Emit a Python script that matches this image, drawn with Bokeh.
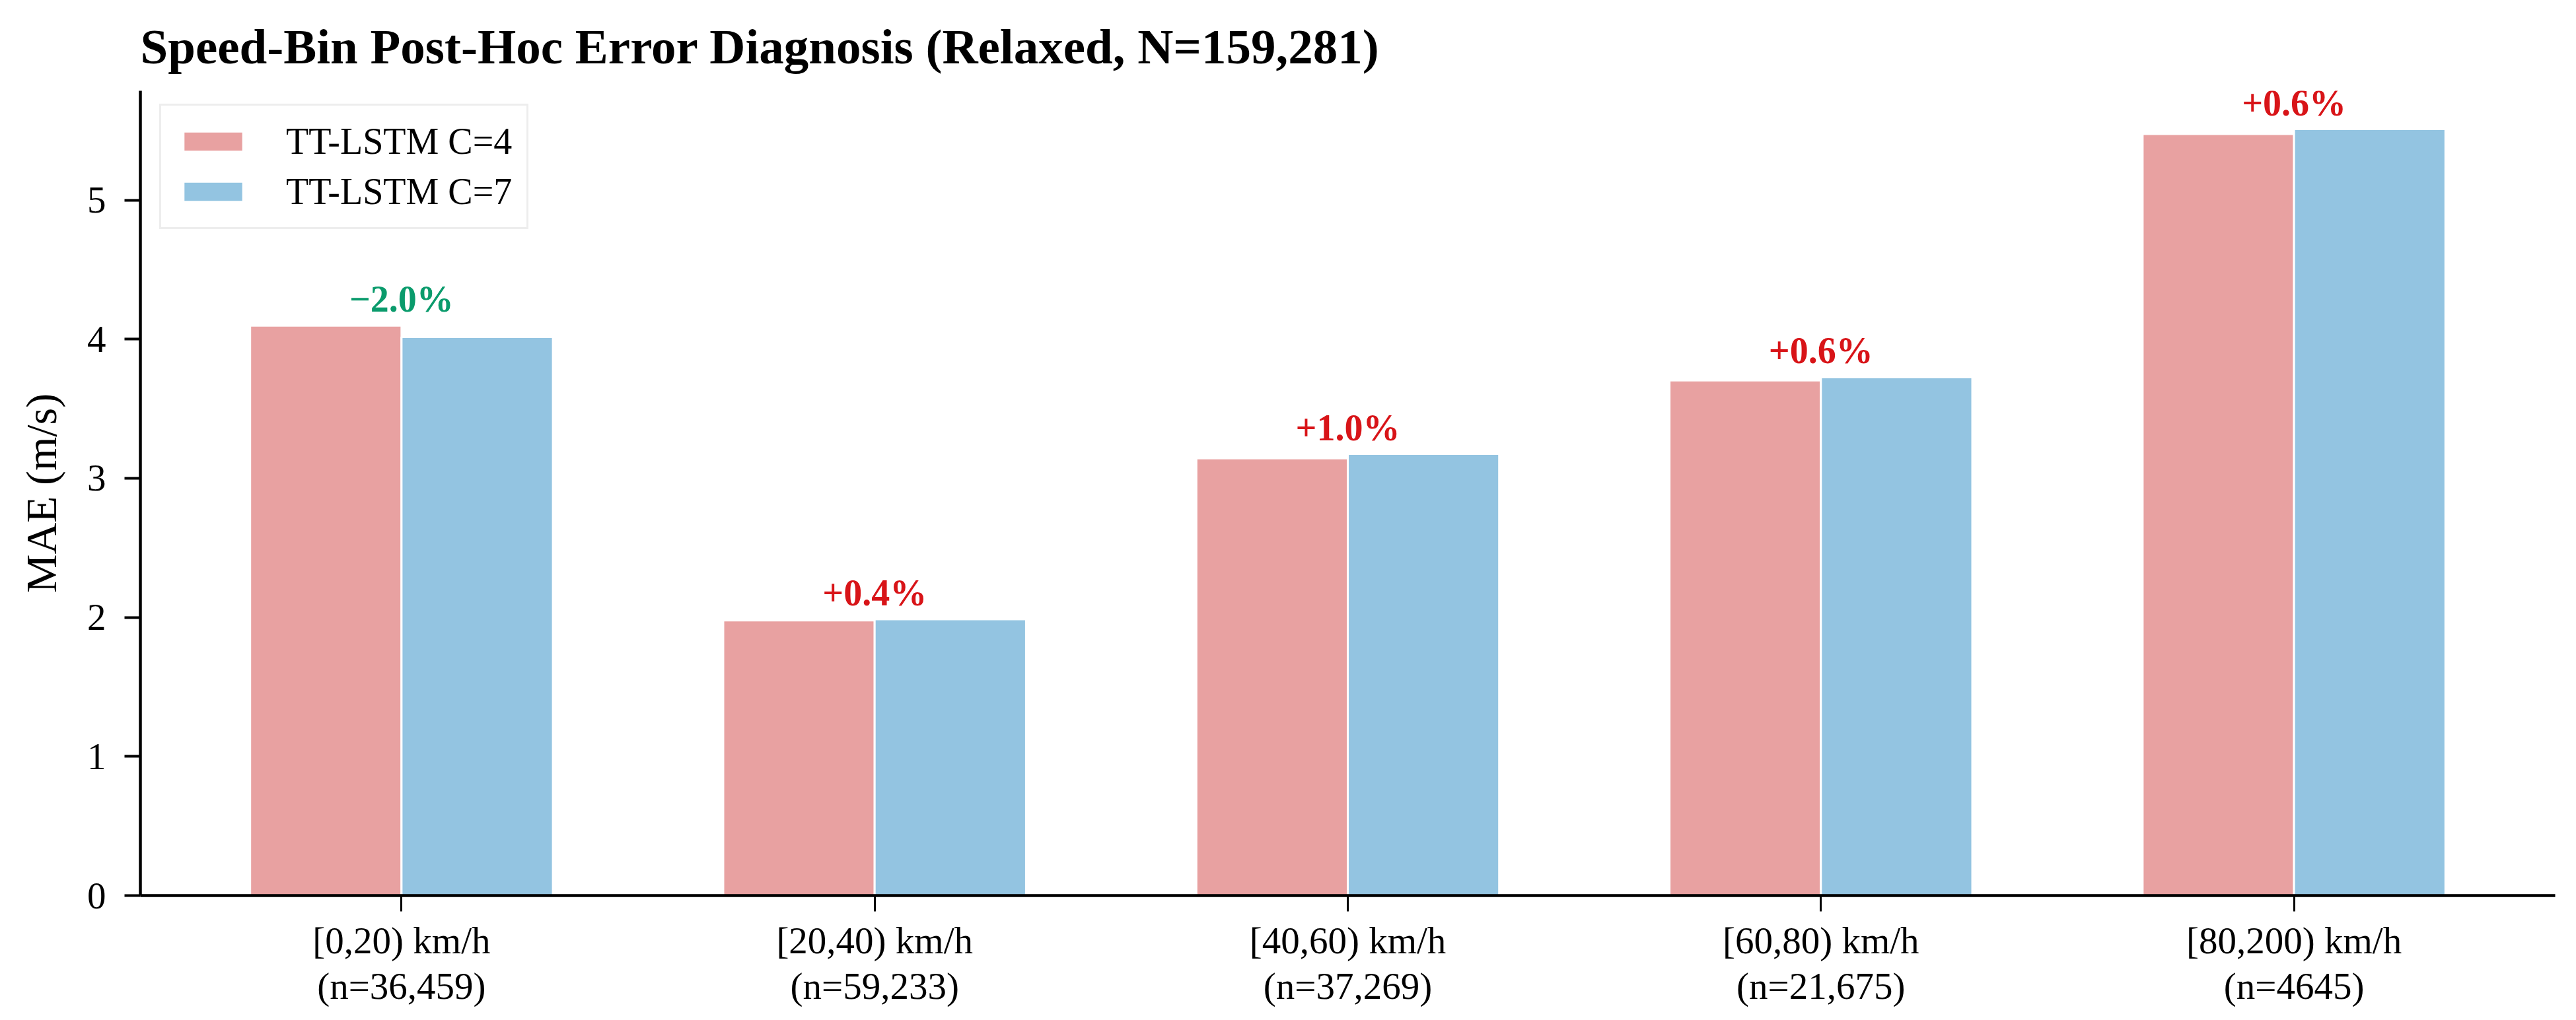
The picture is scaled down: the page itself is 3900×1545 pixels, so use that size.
from bokeh.plotting import figure
from bokeh.models import ColumnDataSource, Range1d, FixedTicker, Legend, LegendItem
from bokeh.transform import dodge
from bokeh.core.properties import value
from bokeh.embed import file_html
from bokeh.resources import INLINE

# ---- data ----
categories = ["[0,20) km/h\n(n=36,459)", "[20,40) km/h\n(n=59,233)", "[40,60) km/h\n(n=37,269)",
              "[60,80) km/h\n(n=21,675)", "[80,200) km/h\n(n=4645)"]
mae_c4 = [4.097, 1.978, 3.143, 3.703, 5.475]
mae_c7 = [4.015, 1.986, 3.175, 3.726, 5.510]
delta_labels = ["\u22122.0%", "+0.4%", "+1.0%", "+0.6%", "+0.6%"]
delta_colors = ["#0a9b6c", "#d81418", "#d81418", "#d81418", "#d81418"]
series_names = ["TT-LSTM C=4", "TT-LSTM C=7"]
yticks = [0, 1, 2, 3, 4, 5]
title_text = "Speed-Bin Post-Hoc Error Diagnosis (Relaxed, N=159,281)"

FONT = "Liberation Serif"
C4_COLOR = "#e8a1a1"
C7_COLOR = "#93c4e1"
W = 0.32

idx = list(range(len(categories)))
src = ColumnDataSource(dict(x=idx, c4=mae_c4, c7=mae_c7))
top = [max(a, b) for a, b in zip(mae_c4, mae_c7)]
lab_src = ColumnDataSource(dict(x=idx, y=top, t=delta_labels, c=delta_colors))

ymax = max(mae_c4 + mae_c7) * 1.05
n = len(categories)
pad = (n - 1 + 2 * W) * 0.05

p = figure(width=3884, height=1529, output_backend="svg", toolbar_location=None,
           x_range=Range1d(-W - pad, n - 1 + W + pad), y_range=Range1d(0, ymax),
           min_border_left=212, min_border_right=16, min_border_top=135, min_border_bottom=173)
p.outline_line_color = None
p.xgrid.visible = False
p.ygrid.visible = False
p.background_fill_color = "white"
p.border_fill_color = "white"

r4 = p.vbar(x=dodge("x", -W / 2, range=p.x_range), top="c4", width=W, bottom=0, source=src,
            fill_color=C4_COLOR, line_color="white", line_width=3)
r7 = p.vbar(x=dodge("x", W / 2, range=p.x_range), top="c7", width=W, bottom=0, source=src,
            fill_color=C7_COLOR, line_color="white", line_width=3)

p.text(x="x", y="y", text="t", text_color="c", source=lab_src, text_align="center",
       text_baseline="alphabetic", y_offset=-40, text_font=value(FONT),
       text_font_size="56px", text_font_style="bold")

# title
p.title.text = title_text
p.title.text_font = FONT
p.title.text_font_size = "75px"
p.title.text_font_style = "bold"
p.title.text_color = "black"
p.title.align = "left"
p.title.vertical_align = "bottom"
p.title.offset = 0
p.title.standoff = 52

# axes
for ax in (p.xaxis[0], p.yaxis[0]):
    ax.axis_line_width = 4.5
    ax.axis_line_color = "black"
    ax.major_tick_line_width = 4
    ax.major_tick_line_color = "black"
    ax.major_tick_out = 24
    ax.major_tick_in = 0
    ax.minor_tick_line_color = None
    ax.major_label_text_font = FONT
    ax.major_label_text_font_size = "57px"
    ax.major_label_text_color = "black"

p.xaxis.ticker = FixedTicker(ticks=idx)
p.xaxis.major_label_overrides = {i: c for i, c in zip(idx, categories)}
p.xaxis.major_label_standoff = 12
p.xaxis.major_label_text_line_height = 1.1
p.xaxis.major_tick_line_width = 3

p.yaxis.ticker = FixedTicker(ticks=yticks)
p.yaxis.major_label_standoff = 28
p.yaxis.axis_label = "MAE (m/s)"
p.yaxis.axis_label_text_font = FONT
p.yaxis.axis_label_text_font_size = "66px"
p.yaxis.axis_label_text_font_style = "normal"
p.yaxis.axis_label_text_color = "black"
p.yaxis.axis_label_standoff = 30

legend = Legend(items=[LegendItem(label=series_names[0], renderers=[r4]),
                       LegendItem(label=series_names[1], renderers=[r7])],
                location=(29, 1009), orientation="vertical")
legend.label_text_font = FONT
legend.label_text_font_size = "56px"
legend.label_text_color = "black"
legend.glyph_width = 113
legend.glyph_height = 38
legend.label_standoff = 54
legend.padding = 22
legend.spacing = 12
legend.margin = 0
legend.border_line_color = "#dcdcdc"
legend.border_line_width = 3
legend.background_fill_color = "white"
legend.background_fill_alpha = 0.8
p.add_layout(legend, "center")

open("out.html", "w").write(file_html(p, INLINE))
